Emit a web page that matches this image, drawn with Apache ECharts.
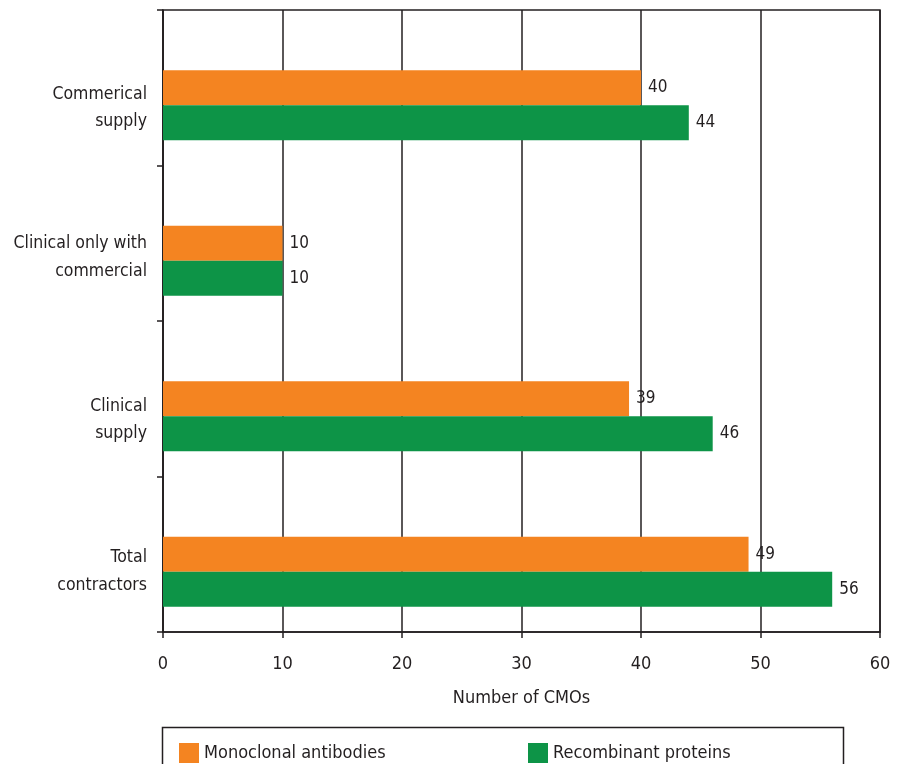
<!DOCTYPE html>
<html><head><meta charset="utf-8">
<script src="https://cdn.jsdelivr.net/npm/echarts@6/dist/echarts.min.js"></script>
<style>html,body{margin:0;padding:0;background:#fff}#c{width:901px;height:764px}</style>
</head><body><div id="c"></div>
<script>
const categories = ['Total\ncontractors', 'Clinical\nsupply', 'Clinical only with\ncommercial', 'Commerical\nsupply'];
const monoclonal = [49, 39, 10, 40];
const recombinant = [56, 46, 10, 44];
const xTicks = [0, 10, 20, 30, 40, 50, 60];
const seriesNames = ['Monoclonal antibodies', 'Recombinant proteins'];

const FONT = "'Liberation Sans Narrow', 'DejaVu Sans Condensed', 'Roboto', sans-serif";
const INK = '#231f20';
// downward nudge of each category label in px (layout only)
const labelNudge = [17, 21, 14, 20];
const gapRich = {};
labelNudge.forEach((n, i) => { gapRich['g' + i] = { lineHeight: n * 2, fontSize: 1 }; });

const chart = echarts.init(document.getElementById('c'));
const labelStyle = { show: true, position: 'right', distance: 7, fontFamily: FONT, fontSize: 17, color: INK };
chart.setOption({
  animation: false,
  textStyle: { fontFamily: FONT, color: INK },
  grid: { left: 163, right: 21, top: 10, bottom: 132, show: true, borderColor: INK, borderWidth: 1.5, containLabel: false },
  xAxis: {
    type: 'value', min: xTicks[0], max: xTicks[xTicks.length - 1], interval: 10,
    name: 'Number of CMOs', nameLocation: 'middle', nameGap: 57,
    nameTextStyle: { fontFamily: FONT, fontSize: 18, color: INK },
    axisLine: { show: true, lineStyle: { color: INK, width: 1.5 } },
    axisTick: { show: true, length: 6, lineStyle: { color: INK, width: 1.5 } },
    axisLabel: { margin: 23, fontFamily: FONT, fontSize: 18, color: INK },
    splitLine: { show: true, lineStyle: { color: INK, width: 1.5 } }
  },
  yAxis: {
    type: 'category', data: categories,
    axisLine: { show: true, lineStyle: { color: INK, width: 1.5 } },
    axisTick: { show: true, length: 6, lineStyle: { color: INK, width: 1.5 } },
    axisLabel: {
      margin: 16, fontFamily: FONT, fontSize: 17.5, color: INK, lineHeight: 27.5, align: 'right',
      formatter: (v, i) => '{g' + i + '| }\n' + v,
      rich: gapRich
    },
    splitLine: { show: false }
  },
  legend: [
    { data: [seriesNames[0]], left: 174, top: 738, itemWidth: 20, itemHeight: 20, icon: 'rect',
      textStyle: { fontFamily: FONT, fontSize: 18, color: INK }, itemGap: 8 },
    { data: [seriesNames[1]], left: 523, top: 738, itemWidth: 20, itemHeight: 20, icon: 'rect',
      textStyle: { fontFamily: FONT, fontSize: 18, color: INK }, itemGap: 8 }
  ],
  graphic: [{
    type: 'rect', left: 160, top: 725, shape: { width: 681, height: 60 },
    style: { fill: 'none', stroke: INK, lineWidth: 1.5 }, z: -1
  }],
  series: [
    { name: 'spacer', type: 'bar', data: [], barWidth: 35, barGap: '0%', silent: true },
    { name: seriesNames[0], type: 'bar', data: monoclonal, barWidth: 35, barGap: '0%',
      itemStyle: { color: '#f48421' }, label: labelStyle },
    { name: seriesNames[1], type: 'bar', data: recombinant, barWidth: 35, barGap: '0%',
      itemStyle: { color: '#0d9447' }, label: labelStyle }
  ]
});
</script></body></html>
